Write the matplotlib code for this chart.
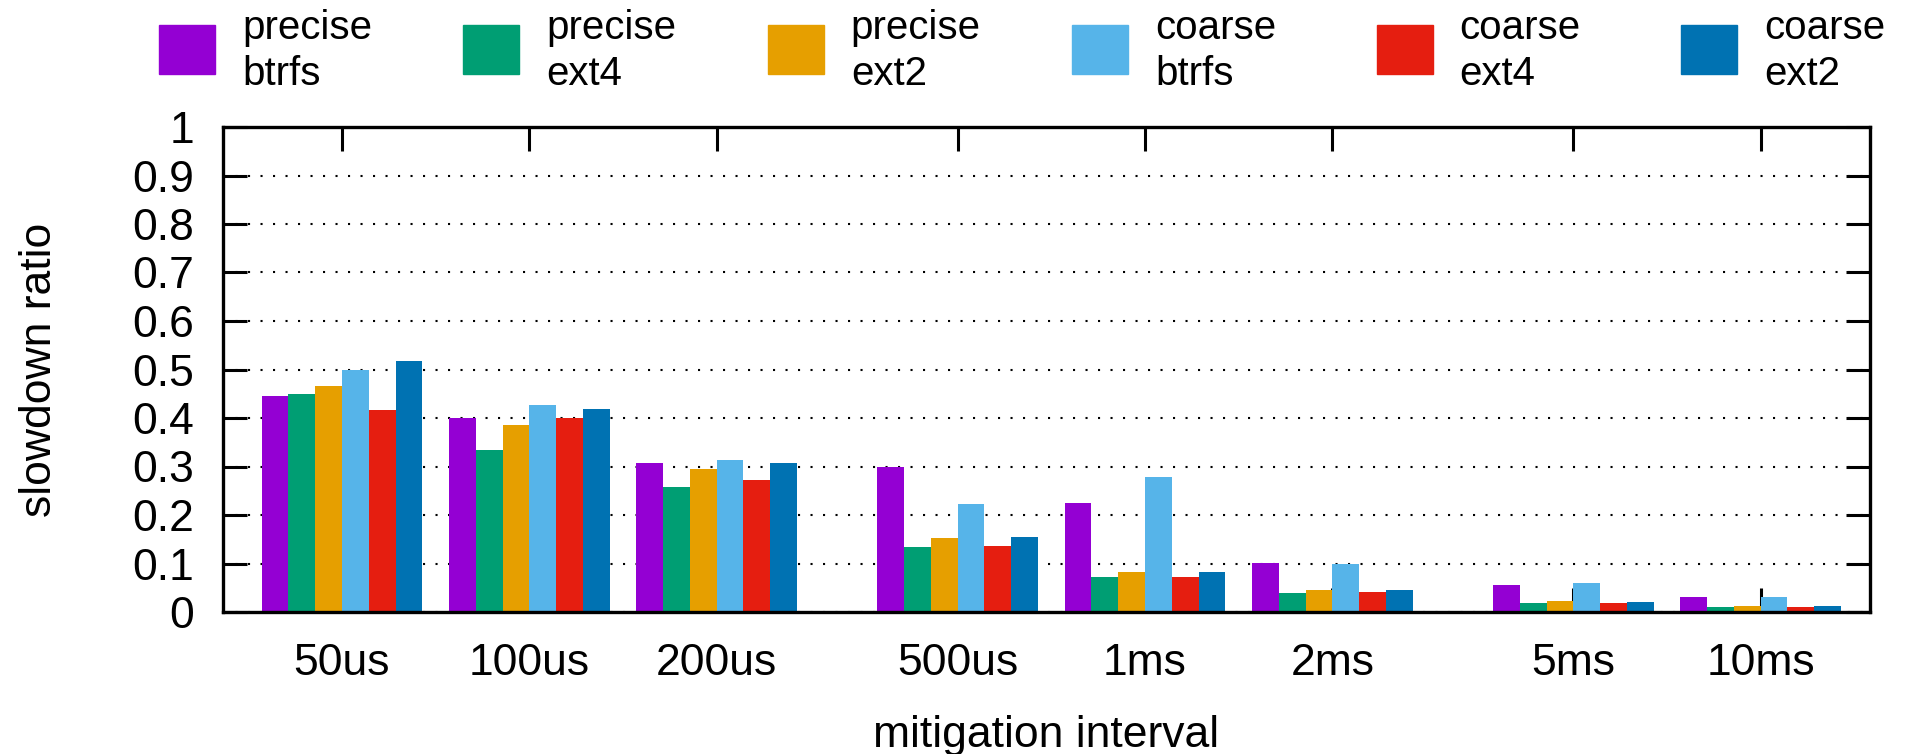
import matplotlib
matplotlib.use("Agg")
import matplotlib.pyplot as plt
from matplotlib.patches import Rectangle
import numpy as np

plt.rcParams['font.family'] = ['Liberation Sans', 'DejaVu Sans']

intervals = ["50us", "100us", "200us", "500us", "1ms", "2ms", "5ms", "10ms"]
series = ["precise\nbtrfs", "precise\next4", "precise\next2",
          "coarse\nbtrfs", "coarse\next4", "coarse\next2"]
colors = ["#9400D3", "#009E73", "#E69F00", "#56B4E9", "#E51E10", "#0072B2"]

precise_btrfs = [0.446, 0.399, 0.307, 0.300, 0.224, 0.101, 0.055, 0.031]
precise_ext4 = [0.449, 0.333, 0.257, 0.134, 0.072, 0.040, 0.018, 0.011]
precise_ext2 = [0.465, 0.386, 0.295, 0.152, 0.083, 0.045, 0.022, 0.012]
coarse_btrfs = [0.499, 0.426, 0.313, 0.222, 0.278, 0.100, 0.060, 0.031]
coarse_ext4 = [0.416, 0.399, 0.273, 0.136, 0.073, 0.041, 0.018, 0.011]
coarse_ext2 = [0.517, 0.419, 0.307, 0.155, 0.083, 0.045, 0.021, 0.012]
values = [precise_btrfs, precise_ext4, precise_ext2,
          coarse_btrfs, coarse_ext4, coarse_ext2]

# three histogram blocks, with a wider gap between blocks
block = [0, 0, 0, 1, 1, 1, 2, 2]
gap = 2 / 7
centers = np.arange(len(intervals)) + gap * np.array(block)
w = 1 / 7

fig = plt.figure(figsize=(19.22, 7.54), dpi=100)
ax = fig.add_axes([223 / 1922, 142 / 754, 1647 / 1922, 485 / 754])

for i, (vals, c) in enumerate(zip(values, colors)):
    ax.bar(centers + (i - 2.5) * w, vals, width=w, color=c, edgecolor='none', zorder=1)

ax.set_xlim(-0.635, 8.155)
ax.set_ylim(0, 1)
ax.set_axisbelow(True)
ax.set_yticks(np.arange(0, 1.01, 0.1))
ax.set_yticklabels(["0"] + ["%.1f" % v for v in np.arange(0.1, 0.95, 0.1)] + ["1"])
ax.set_xticks(centers)
ax.set_xticklabels(intervals)
ax.tick_params(axis='both', direction='in', labelsize=32, width=2.2, length=17, color='black')
ax.tick_params(axis='y', right=True, pad=21)
ax.tick_params(axis='x', top=True, pad=22)
ax.grid(axis='y', color='black', linestyle=(0, (1, 5)), linewidth=1.5)
for s in ax.spines.values():
    s.set_linewidth(2.4)

ax.set_xlabel("mitigation interval", fontsize=32)
ax.xaxis.set_label_coords(0.5, -0.212)
ax.set_ylabel("slowdown ratio", fontsize=32)
ax.yaxis.set_label_coords(-0.099, 0.5)

# legend row above the plot
for i, (lab, c) in enumerate(zip(series, colors)):
    x0 = 159 + i * 304.4
    fig.patches.append(Rectangle((x0 / 1922, 1 - 74 / 754), 56 / 1922, 49 / 754,
                                 transform=fig.transFigure, color=c))
    fig.text((x0 + 83) / 1922, 1 - 51 / 754, lab, fontsize=29, va='center',
             ha='left', linespacing=1.25)

fig.savefig("out.png", dpi=100)
